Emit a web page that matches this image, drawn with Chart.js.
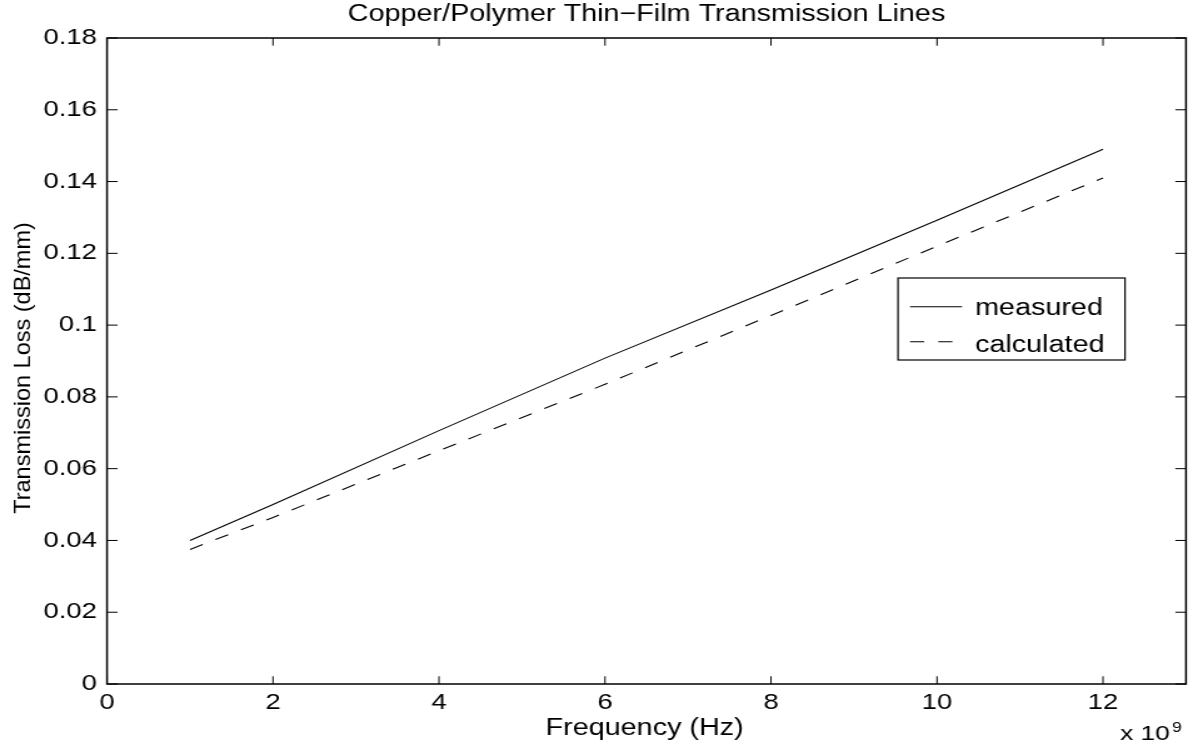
<!DOCTYPE html>
<html><head><meta charset="utf-8">
<script src="https://cdn.jsdelivr.net/npm/chart.js@4.4.1/dist/chart.umd.min.js"></script>
<style>html,body{margin:0;padding:0;background:#fff;overflow:hidden}
#c{display:block;width:1198px;height:751px}</style>
</head><body>
<canvas id="c" width="958" height="751" style="width:1198px;height:751px"></canvas>
<script>
// ---- data (frequency in units of 1e9 Hz) ----
const freqGHz    = [1, 2, 4, 6, 8, 10, 12];
const measured   = [0.0400, 0.0500, 0.0706, 0.0908, 0.1098, 0.1292, 0.1490];
const calculated = [0.0375, 0.0464, 0.0650, 0.0835, 0.1027, 0.1220, 0.1410];
const seriesNames = ['measured', 'calculated'];
const xTickValues = [0, 2, 4, 6, 8, 10, 12];
const xTickLabels = ['0', '2', '4', '6', '8', '10', '12'];
const yTickValues = [0, 0.02, 0.04, 0.06, 0.08, 0.10, 0.12, 0.14, 0.16, 0.18];
const yTickLabels = ['0', '0.02', '0.04', '0.06', '0.08', '0.1', '0.12', '0.14', '0.16', '0.18'];
const titleText = 'Copper/Polymer Thin\u2212Film Transmission Lines';
const xTitle = 'Frequency (Hz)';
const yTitle = 'Transmission Loss (dB/mm)';
const xExpBase = 'x 10';
const xExpPower = '9';

const K = 1198 / 958;
const FONT = '"Liberation Sans", Arial, Helvetica, sans-serif';

const decor = {
  id: 'decor',
  afterDraw(chart) {
    const { ctx, chartArea: a, scales: { x, y } } = chart;
    ctx.save();
    ctx.strokeStyle = '#000';
    ctx.lineWidth = 1.5;
    ctx.strokeRect(a.left, a.top, a.right - a.left, a.bottom - a.top);
    ctx.lineWidth = 1;
    ctx.beginPath();
    xTickValues.forEach(v => {
      const px = x.getPixelForValue(v);
      ctx.moveTo(px, a.bottom); ctx.lineTo(px, a.bottom - 7.7);
      ctx.moveTo(px, a.top); ctx.lineTo(px, a.top + 7.7);
    });
    yTickValues.forEach(v => {
      const py = y.getPixelForValue(v);
      ctx.moveTo(a.left, py); ctx.lineTo(a.left + 8.5, py);
      ctx.moveTo(a.right, py); ctx.lineTo(a.right - 8.5, py);
    });
    ctx.stroke();

    ctx.fillStyle = '#000';
    // title
    ctx.font = '23px ' + FONT;
    ctx.textAlign = 'center';
    ctx.textBaseline = 'alphabetic';
    ctx.fillText(titleText, (a.left + a.right) / 2, 20.7);
    // x title
    ctx.fillText(xTitle, (a.left + a.right) / 2 - 1.5, 735);
    // exponent
    ctx.textAlign = 'left';
    ctx.font = '21px ' + FONT;
    ctx.fillText(xExpBase, 1120 / K, 740);
    ctx.font = '14px ' + FONT;
    ctx.fillText(xExpPower, 1172 / K, 732);
    // y title (kept unstretched)
    ctx.save();
    ctx.translate(30 / K, 368);
    ctx.scale(1 / K, 1);
    ctx.rotate(-Math.PI / 2);
    ctx.font = '23.5px ' + FONT;
    ctx.textAlign = 'center';
    ctx.fillText(yTitle, 0, 0);
    ctx.restore();

    // legend
    const bx0 = 898 / K, bx1 = 1125 / K, by0 = 278, by1 = 360;
    ctx.fillStyle = '#fff';
    ctx.fillRect(bx0, by0, bx1 - bx0, by1 - by0);
    ctx.strokeStyle = '#000';
    ctx.lineWidth = 1.2;
    ctx.strokeRect(bx0, by0, bx1 - bx0, by1 - by0);
    const rowsY = [306.7, 341.7];
    const textBase = [315, 352];
    chart.data.datasets.forEach((ds, i) => {
      ctx.beginPath();
      ctx.setLineDash(ds.borderDash || []);
      ctx.lineWidth = ds.borderWidth;
      ctx.strokeStyle = ds.borderColor;
      ctx.moveTo(910 / K, rowsY[i]);
      ctx.lineTo(962 / K, rowsY[i]);
      ctx.stroke();
      ctx.setLineDash([]);
      ctx.fillStyle = '#000';
      ctx.font = '23px ' + FONT;
      ctx.textAlign = 'left';
      ctx.fillText(ds.label, 975 / K, textBase[i]);
    });
    ctx.restore();
  }
};

new Chart(document.getElementById('c'), {
  type: 'line',
  data: {
    datasets: [
      { label: seriesNames[0], data: freqGHz.map((f, i) => ({ x: f, y: measured[i] })),
        borderColor: '#000', borderWidth: 1.1, pointRadius: 0, tension: 0, fill: false },
      { label: seriesNames[1], data: freqGHz.map((f, i) => ({ x: f, y: calculated[i] })),
        borderColor: '#000', borderWidth: 1.1, borderDash: [11.3, 11.3], pointRadius: 0, tension: 0, fill: false }
    ]
  },
  options: {
    responsive: false,
    devicePixelRatio: 1,
    animation: false,
    layout: { padding: { left: 0, right: 958 - 1186 / K, top: 38, bottom: 0 } },
    plugins: { legend: { display: false }, title: { display: false }, tooltip: { enabled: false } },
    scales: {
      x: {
        type: 'linear', min: 0, max: 13,
        grid: { display: false, drawTicks: false },
        border: { display: false },
        ticks: { color: '#000', font: { family: FONT, size: 22 }, padding: 6, maxRotation: 0, autoSkip: false,
                 callback: (v, i) => xTickLabels[i] },
        afterBuildTicks: s => { s.ticks = xTickValues.map(v => ({ value: v })); },
        afterFit: s => { s.height = 751 - 684; }
      },
      y: {
        type: 'linear', min: 0, max: 0.18,
        grid: { display: false, drawTicks: false },
        border: { display: false },
        ticks: { color: '#000', font: { family: FONT, size: 22 }, padding: 8, autoSkip: false,
                 callback: (v, i) => yTickLabels[i] },
        afterBuildTicks: s => { s.ticks = yTickValues.map(v => ({ value: v })); },
        afterFit: s => { s.width = 107 / K; }
      }
    }
  },
  plugins: [decor]
});
</script>
</body></html>
